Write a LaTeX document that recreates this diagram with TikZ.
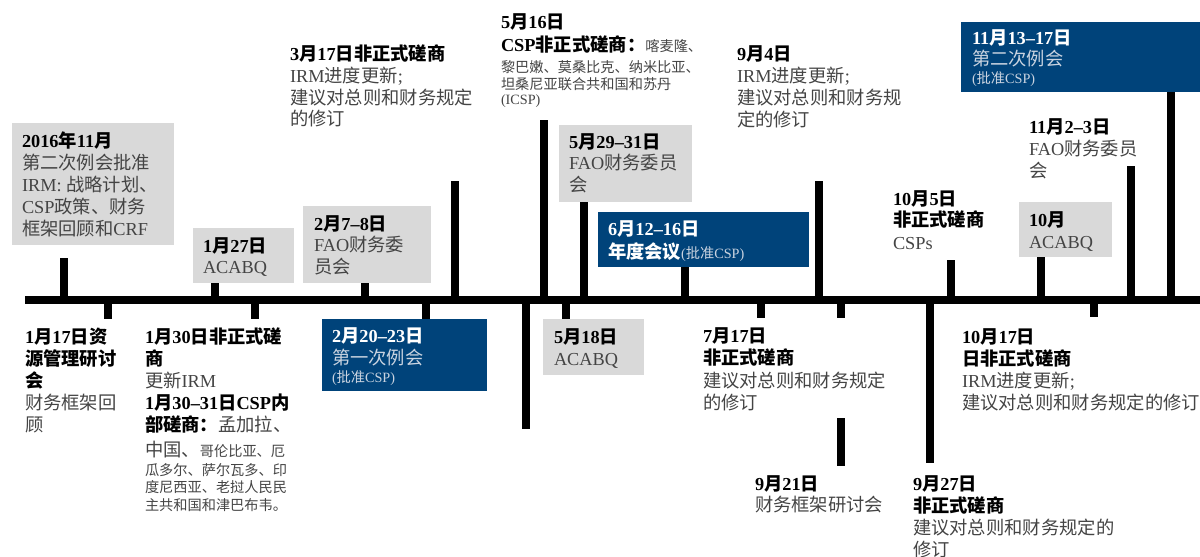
\documentclass[tikz,border=0pt]{standalone}
\usepackage{fontspec}
\setmainfont{Liberation Serif}
\newfontfamily\cjk{Noto Sans CJK SC}
\XeTeXinterchartokenstate=1
\ifdefined\newXeTeXintercharclass \newXeTeXintercharclass\cjkcls \else \chardef\cjkcls=5 \fi
\newcount\cjkcnt
\cjkcnt="4E00
\loop \XeTeXcharclass\cjkcnt=\cjkcls \advance\cjkcnt by 1 \ifnum\cjkcnt<"A000 \repeat
\cjkcnt="3000
\loop \XeTeXcharclass\cjkcnt=\cjkcls \advance\cjkcnt by 1 \ifnum\cjkcnt<"3040 \repeat
\cjkcnt="FF00
\loop \XeTeXcharclass\cjkcnt=\cjkcls \advance\cjkcnt by 1 \ifnum\cjkcnt<"FFF0 \repeat
\XeTeXinterchartoks 0 \cjkcls = {\cjk}
\XeTeXinterchartoks 4095 \cjkcls = {\cjk}
\XeTeXinterchartoks \cjkcls 0 = {\rmfamily}
\XeTeXinterchartoks \cjkcls 4095 = {\rmfamily}
\definecolor{boxgray}{HTML}{D9D9D9}
\definecolor{unblue}{HTML}{00437A}
\definecolor{bodygray}{HTML}{444444}
\definecolor{lightblue}{HTML}{C9D3E0}
\newcommand\tb[1]{{\bfseries\color{black}#1}}
\newcommand\tg[1]{{\color{bodygray}#1}}
\newcommand\tw[1]{{\bfseries\color{white}#1}}
\newcommand\tlb[1]{{\color{lightblue}#1}}
\newcommand\sm{\fontsize{14.2}{17}\selectfont}
\tikzset{
  txt/.style={anchor=base west, inner sep=0pt, outer sep=0pt, font=\fontsize{18.3}{22}\selectfont},
  graybox/.style={fill=boxgray},
  bluebox/.style={fill=unblue},
  bar/.style={line width=8pt, black},
  tick/.style={line width=7.5pt, black}
}
\begin{document}
\begin{tikzpicture}[x=1pt,y=-1pt]
\useasboundingbox (0,0) rectangle (1200,557);
% boxes
\fill[graybox] (12,123) rectangle (174,245);
\fill[graybox] (193,228) rectangle (294,283);
\fill[graybox] (303,206) rectangle (431,283);
\fill[graybox] (559,125) rectangle (692,202);
\fill[graybox] (1019,202) rectangle (1112,257);
\fill[graybox] (543,319) rectangle (644,375);
\fill[bluebox] (598,212) rectangle (809,267);
\fill[bluebox] (961,22) rectangle (1200,92);
\fill[bluebox] (322,319) rectangle (487,391);
% timeline
\draw[bar] (25,300) -- (1200,300);
% ticks up
\foreach \x/\t in {64/258, 215/283, 365/283, 455/181, 544/120, 584/202, 685/267, 819/181, 951/260, 1041/257, 1131/166, 1171/92}
  \draw[tick] (\x,300) -- (\x,\t);
% ticks down
\foreach \x/\b in {108/319, 255/319, 426/319, 526/429, 566/319, 761/318, 841/318, 930/463, 1094/317}
  \draw[tick] (\x,300) -- (\x,\b);
\draw[tick] (841,418) -- (841,466);
% a
\node[txt] (a1) at (22,147) {\tb{2016年11月}};
\node[txt] (a2) at (22,169) {\tg{第二次例会批准}};
\node[txt] (a3) at (22,191) {\tg{IRM: 战略计划、}};
\node[txt] (a4) at (22,213) {\tg{CSP政策、财务}};
\node[txt] (a5) at (22,235) {\tg{框架回顾和CRF}};
% b
\node[txt] (b1) at (203,252) {\tb{1月27日}};
\node[txt] (b2) at (203,273) {\tg{ACABQ}};
% c
\node[txt] (c1) at (314,230) {\tb{2月7–8日}};
\node[txt] (c2) at (314,251) {\tg{FAO财务委}};
\node[txt] (c3) at (314,273) {\tg{员会}};
% d
\node[txt] (d1) at (290,60) {\tb{3月17日非正式磋商}};
\node[txt] (d2) at (290,82) {\tg{IRM进度更新;}};
\node[txt] (d3) at (290,104) {\tg{建议对总则和财务规定}};
\node[txt] (d4) at (290,125) {\tg{的修订}};
% e
\node[txt] (e1) at (501,28) {\tb{5月16日}};
\node[txt] (e2) at (501,51) {\tb{CSP非正式磋商：}\tg{\sm 喀麦隆、}};
\node[txt] (e3) at (501,72) {\tg{\sm 黎巴嫩、莫桑比克、纳米比亚、}};
\node[txt] (e4) at (501,89) {\tg{\sm 坦桑尼亚联合共和国和苏丹}};
\node[txt] (e5) at (501,104) {\tg{\sm (ICSP)}};
% f
\node[txt] (f1) at (569,148) {\tb{5月29–31日}};
\node[txt] (f2) at (569,169) {\tg{FAO财务委员}};
\node[txt] (f3) at (569,191) {\tg{会}};
% g
\node[txt] (g1) at (608,235) {\tw{6月12–16日}};
\node[txt] (g2) at (608,258) {\tw{年度会议}\tlb{\sm (批准CSP)}};
% h
\node[txt] (h1) at (737,60) {\tb{9月4日}};
\node[txt] (h2) at (737,82) {\tg{IRM进度更新;}};
\node[txt] (h3) at (737,104) {\tg{建议对总则和财务规}};
\node[txt] (h4) at (737,126) {\tg{定的修订}};
% i
\node[txt] (i1) at (972,44) {\tw{11月13–17日}};
\node[txt] (i2) at (972,65) {\tlb{第二次例会}};
\node[txt] (i3) at (972,83) {\tlb{\sm (批准CSP)}};
% j
\node[txt] (j1) at (1029,133) {\tb{11月2–3日}};
\node[txt] (j2) at (1029,155) {\tg{FAO财务委员}};
\node[txt] (j3) at (1029,177) {\tg{会}};
% k
\node[txt] (k1) at (893,205) {\tb{10月5日}};
\node[txt] (k2) at (893,226) {\tb{非正式磋商}};
\node[txt] (k3) at (893,249) {\tg{CSPs}};
% l
\node[txt] (l1) at (1029,226) {\tb{10月}};
\node[txt] (l2) at (1029,248) {\tg{ACABQ}};
% m
\node[txt] (m1) at (25,343) {\tb{1月17日资}};
\node[txt] (m2) at (25,365) {\tb{源管理研讨}};
\node[txt] (m3) at (25,387) {\tb{会}};
\node[txt] (m4) at (25,409) {\tg{财务框架回}};
\node[txt] (m5) at (25,431) {\tg{顾}};
% n
\node[txt] (n1) at (145,343) {\tb{1月30日非正式磋}};
\node[txt] (n2) at (145,365) {\tb{商}};
\node[txt] (n3) at (145,387) {\tg{更新IRM}};
\node[txt] (n4) at (145,409) {\tb{1月30–31日CSP内}};
\node[txt] (n5) at (145,431) {\tb{部磋商：}\tg{孟加拉、}};
\node[txt] (n6) at (145,456) {\tg{中国、\sm 哥伦比亚、厄}};
\node[txt] (n7) at (145,475) {\tg{\sm 瓜多尔、萨尔瓦多、印}};
\node[txt] (n8) at (145,492) {\tg{\sm 度尼西亚、老挝人民民}};
\node[txt] (n9) at (145,510) {\tg{\sm 主共和国和津巴布韦。}};
% o
\node[txt] (o1) at (332,342) {\tw{2月20–23日}};
\node[txt] (o2) at (332,364) {\tlb{第一次例会}};
\node[txt] (o3) at (332,382) {\tlb{\sm (批准CSP)}};
% p
\node[txt] (p1) at (554,343) {\tb{5月18日}};
\node[txt] (p2) at (554,365) {\tg{ACABQ}};
% q
\node[txt] (q1) at (703,342) {\tb{7月17日}};
\node[txt] (q2) at (703,364) {\tb{非正式磋商}};
\node[txt] (q3) at (703,387) {\tg{建议对总则和财务规定}};
\node[txt] (q4) at (703,409) {\tg{的修订}};
% r
\node[txt] (r1) at (755,490) {\tb{9月21日}};
\node[txt] (r2) at (755,511) {\tg{财务框架研讨会}};
% s
\node[txt] (s1) at (913,490) {\tb{9月27日}};
\node[txt] (s2) at (913,512) {\tb{非正式磋商}};
\node[txt] (s3) at (913,534) {\tg{建议对总则和财务规定的}};
\node[txt] (s4) at (913,556) {\tg{修订}};
% t
\node[txt] (t1) at (962,343) {\tb{10月17日}};
\node[txt] (t2) at (962,365) {\tb{日非正式磋商}};
\node[txt] (t3) at (962,387) {\tg{IRM进度更新;}};
\node[txt] (t4) at (962,409) {\tg{建议对总则和财务规定的修订}};
\end{tikzpicture}
\end{document}
